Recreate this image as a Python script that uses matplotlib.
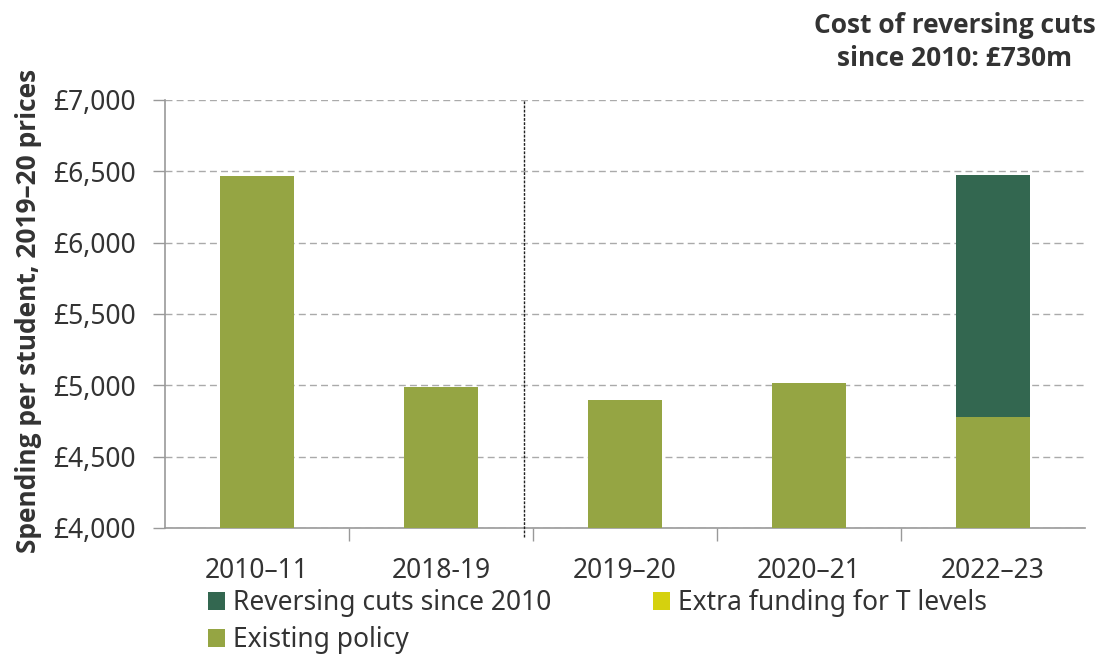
import matplotlib
matplotlib.use("Agg")
import matplotlib.pyplot as plt
import numpy as np

plt.rcParams['font.family'] = ['Noto Sans', 'DejaVu Sans']

categories = ["2010\u201311", "2018-19", "2019\u201320", "2020\u201321", "2022\u201323"]
existing_policy = [6470, 4990, 4895, 5015, 4775]
t_levels = [0, 0, 0, 0, 0]
reversing_cuts = [0, 0, 0, 0, 1700]
yticks = [4000, 4500, 5000, 5500, 6000, 6500, 7000]
ytick_labels = ["\u00a34,000", "\u00a34,500", "\u00a35,000", "\u00a35,500", "\u00a36,000", "\u00a36,500", "\u00a37,000"]

c_exist = "#95A543"
c_tlev = "#D5D10E"
c_rev = "#336750"
txt = "#333333"
fs = 19
bold_family = ['Open Sans', 'DejaVu Sans']

fig = plt.figure(figsize=(11.13, 6.57), dpi=100)
ax = fig.add_axes([165/1113, 1-528/657, 920/1113, 428/657])

x = np.arange(len(categories))
w = 0.4
base = 4000
ex = np.array(existing_policy)
tl = np.array(t_levels)
rc = np.array(reversing_cuts)
b1 = ax.bar(x, ex - base, w, bottom=base, color=c_exist, zorder=3, label="Existing policy")
b2 = ax.bar(x, tl, w, bottom=ex, color=c_tlev, zorder=3, label="Extra funding for T levels")
b3 = ax.bar(x, rc, w, bottom=ex + tl, color=c_rev, zorder=3, label="Reversing cuts since 2010")

ax.set_xlim(-0.5, len(categories) - 0.5)
ax.set_ylim(4000, 7000)
ax.set_yticks(yticks)
ax.set_yticklabels(ytick_labels, fontsize=fs, color=txt)
ax.set_xticks(x)
ax.set_xticklabels(categories, fontsize=fs, color=txt)
ax.set_xticks(np.arange(len(categories) - 1) + 0.5, minor=True)
ax.tick_params(axis='x', which='major', length=0, pad=21)
ax.tick_params(axis='x', which='minor', length=9, color="#999999", width=1)
ax.tick_params(axis='y', length=9, color="#999999", width=1, pad=12)

for s in ['top', 'right']:
    ax.spines[s].set_visible(False)
for s in ['left', 'bottom']:
    ax.spines[s].set_color("#999999")
    ax.spines[s].set_linewidth(1.2)

ax.yaxis.grid(True, linestyle=(0, (5, 3)), color="#AAAAAA", linewidth=1, zorder=0)
ax.set_axisbelow(True)

ax.axvline(1.45, ymin=-0.02, ymax=1, color="#222222", linestyle=(0, (2, 1)), linewidth=1, clip_on=False, zorder=4)

fig.text(29/1113, 1-311/657, "Spending per student, 2019\u201320 prices", rotation=90, ha='center', va='center',
         fontsize=fs, fontweight='bold', family=bold_family, color=txt)

fig.text(955/1113, 1-42/657, "Cost of reversing cuts\nsince 2010: \u00a3730m", ha='center', va='center',
         fontsize=fs, fontweight='bold', family=bold_family, color=txt, linespacing=1.3)

leg = fig.legend(handles=[b3, b1, b2], labels=["Reversing cuts since 2010", "Existing policy", "Extra funding for T levels"],
                 ncol=2, loc='upper left', bbox_to_anchor=(208/1113, 1-589/657), frameon=False,
                 fontsize=fs, handlelength=0.65, handleheight=0.65, handletextpad=0.3,
                 columnspacing=3.85, labelspacing=0.35, borderaxespad=0, borderpad=0)
for t in leg.get_texts():
    t.set_color(txt)

fig.savefig("out.png", dpi=100)
